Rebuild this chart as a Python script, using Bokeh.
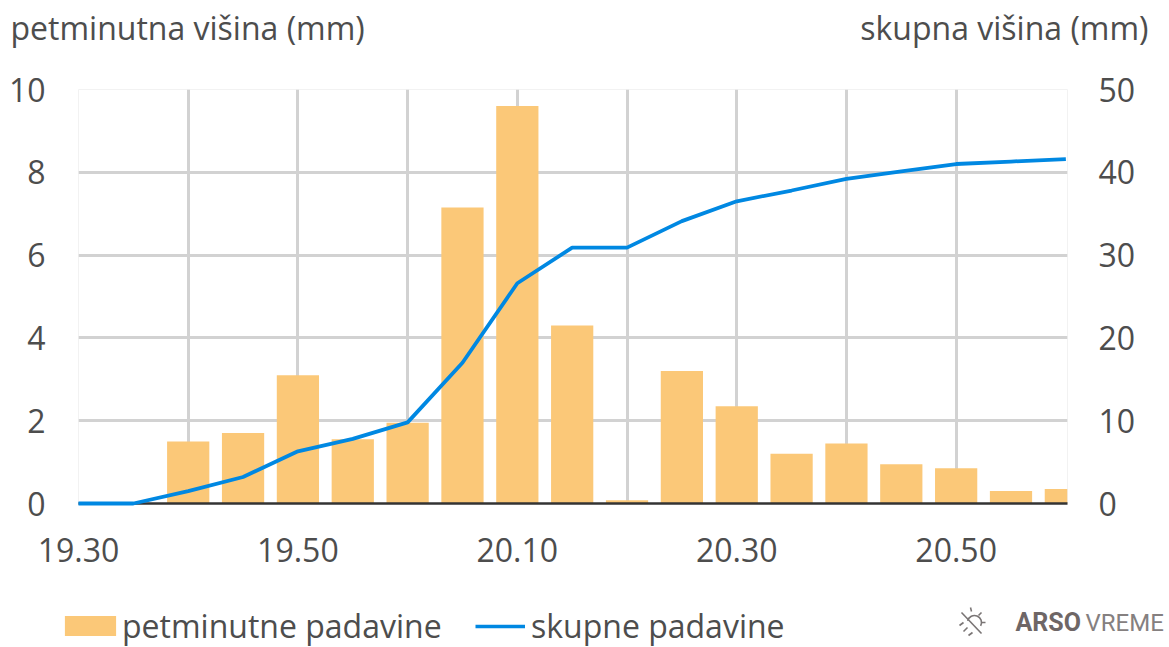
from bokeh.plotting import figure
from bokeh.layouts import column
from bokeh.models import (Range1d, LinearAxis, FixedTicker, Label, Legend, LegendItem)
from bokeh.embed import file_html
from bokeh.resources import INLINE

times = ["19.30","19.35","19.40","19.45","19.50","19.55","20.00","20.05","20.10","20.15",
         "20.20","20.25","20.30","20.35","20.40","20.45","20.50","20.55","21.00"]
five_min = [0,0,1.5,1.7,3.1,1.55,1.95,7.15,9.6,4.3,0.08,3.2,2.35,1.2,1.45,0.95,0.85,0.3,0.35]
total = [0,0,1.5,3.2,6.3,7.8,9.8,17.0,26.6,30.9,30.9,34.1,36.5,37.8,39.2,40.1,41.0,41.3,41.6]
left_ticks = [0,2,4,6,8,10]
right_ticks = [0,10,20,30,40,50]
label_idx = [0,4,8,12,16]
grid_idx = [2,4,6,8,10,12,14,16]

FONT = "Open Sans"
TXT = "#4d4d4d"
FS = "32px"
BAR = "#FBC878"
BLUE = "#0088E2"
W = 1169
HEAD_H, MAIN_H, FOOT_H = 60, 530, 57
L, T, R, B = 78, 29, 102, 87

def strip(height):
    f = figure(width=W, height=height, output_backend="svg", toolbar_location=None,
               x_range=Range1d(0, W), y_range=Range1d(height, 0),
               x_axis_type=None, y_axis_type=None, frame_align=False,
               min_border=0, min_border_left=0, min_border_right=0,
               min_border_top=0, min_border_bottom=0)
    f.outline_line_color = None
    return f

def add_text(f, text, x, y, align="left", size=FS, color=TXT, font=FONT, style="normal"):
    f.add_layout(Label(x=x, y=y, text=text, text_font=font, text_font_size=size,
                       text_color=color, text_align=align, text_baseline="middle",
                       text_font_style=style))

# header strip: the two axis captions
head = strip(HEAD_H)
add_text(head, "petminutna višina (mm)", 10, 27)
add_text(head, "skupna višina (mm)", 1148, 27, align="right")

# main plot
idx = list(range(len(times)))
p = figure(width=W, height=MAIN_H, output_backend="svg", toolbar_location=None,
           x_range=Range1d(0, 18.03), y_range=Range1d(0, 10), frame_align=False,
           min_border_left=L, min_border_top=T, min_border_right=R, min_border_bottom=B)
p.extra_y_ranges = {"total": Range1d(0, 50)}
p.outline_line_color = "#f2f2f2"

p.xgrid.ticker = FixedTicker(ticks=grid_idx)
p.ygrid.ticker = FixedTicker(ticks=left_ticks[1:-1])
for g in (p.xgrid, p.ygrid):
    g.grid_line_color = "#d2d2d2"
    g.grid_line_width = 3

p.vbar(x=idx, top=five_min, width=0.77, bottom=0, fill_color=BAR, line_color=None)
p.line(x=idx, y=total, y_range_name="total", line_color=BLUE, line_width=3.8, level="overlay")

def style_axis(a, standoff):
    a.major_tick_line_color = None
    a.minor_tick_line_color = None
    a.major_tick_out = 0
    a.major_tick_in = 0
    a.minor_tick_out = 0
    a.minor_tick_in = 0
    a.major_label_text_font = FONT
    a.major_label_text_font_size = FS
    a.major_label_text_color = TXT
    a.major_label_standoff = standoff

xa = p.xaxis[0]
xa.ticker = FixedTicker(ticks=label_idx)
xa.major_label_overrides = {i: times[i] for i in label_idx}
style_axis(xa, 34)
xa.axis_line_color = "#333333"
xa.axis_line_width = 2.5

ya = p.yaxis[0]
ya.ticker = FixedTicker(ticks=left_ticks)
style_axis(ya, 33)
ya.axis_line_color = None

ra = LinearAxis(y_range_name="total", ticker=FixedTicker(ticks=right_ticks))
style_axis(ra, 31)
ra.axis_line_color = None
p.add_layout(ra, "right")

# footer strip: legends and logo; the key renderers sit outside the strip's visible ranges
foot = strip(FOOT_H)
swatch = foot.vbar(x=[-500], top=[-500], width=1, fill_color=BAR, line_color=None)
key = foot.line(x=[-500, -400], y=[-500, -500], line_color=BLUE, line_width=3.6)

def add_legend(label, renderer, x, glyph_w, glyph_h, standoff):
    foot.add_layout(Legend(items=[LegendItem(label=label, renderers=[renderer])],
                           orientation="horizontal", location=(x, 0),
                           glyph_width=glyph_w, glyph_height=glyph_h,
                           label_standoff=standoff, padding=0, margin=0,
                           label_text_font=FONT, label_text_font_size=FS,
                           label_text_color=TXT, label_text_line_height=1.0,
                           border_line_color=None, background_fill_alpha=0), "center")

add_legend("petminutne padavine", swatch, 58, 64, 25, 0)
add_legend("skupne padavine", key, 475, 50, 20, 6)

add_text(foot, "ARSO", 1015, 32, size="25px", color="#6e6666", style="bold", font="Roboto")
add_text(foot, "VREME", 1085, 32, size="24px", color="#858080", font="Roboto")

# logo icon (decoration, in footer pixels)
icon_x0 = [961, 970, 981, 985, 959, 963, 968]
icon_y0 = [22, 17, 22, 32, 35, 41, 45]
icon_x1 = [981, 971, 978, 981, 963, 967, 972]
icon_y1 = [43, 21, 25, 32, 32, 37, 42]
foot.segment(icon_x0, icon_y0, icon_x1, icon_y1, line_color="#7a7575", line_width=1.6)
foot.arc(x=[974], y=[32], radius=7, start_angle=-0.5, end_angle=2.9, line_color="#7a7575", line_width=1.6)

page = column(head, p, foot, spacing=0)
out = open("out.html", "w")
out.write(file_html(page, INLINE))
out.close()
